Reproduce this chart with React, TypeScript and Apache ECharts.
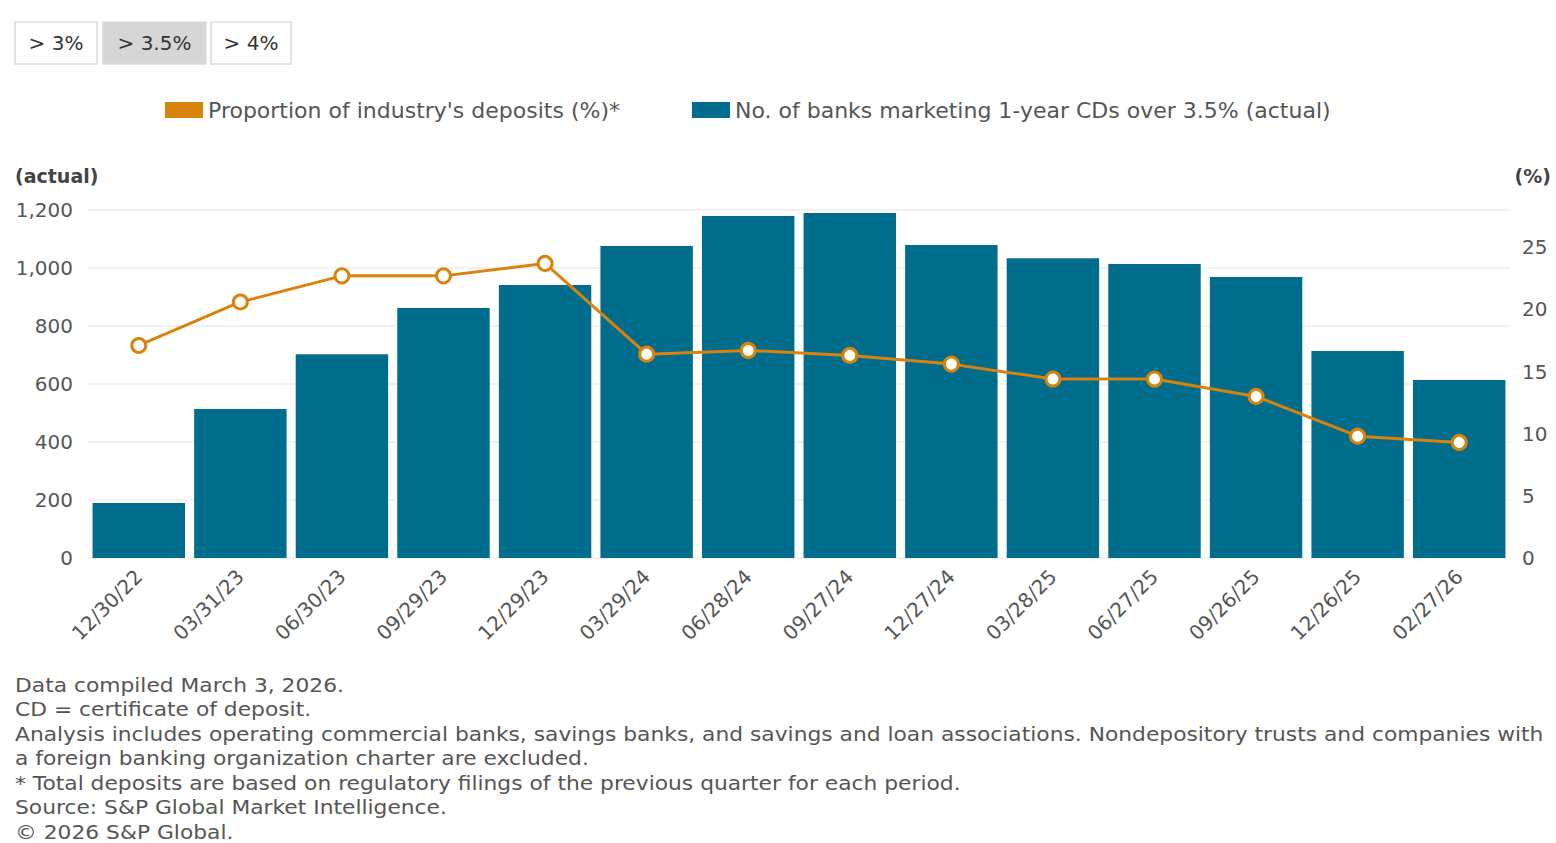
import React, { useEffect, useRef } from "react";
import * as echarts from "echarts";

const categories = ["12/30/22", "03/31/23", "06/30/23", "09/29/23", "12/29/23", "03/29/24", "06/28/24", "09/27/24", "12/27/24", "03/28/25", "06/27/25", "09/26/25", "12/26/25", "02/27/26"];
const banksCount = [190, 514, 703, 862, 941, 1076, 1179, 1190, 1079, 1034, 1014, 969, 714, 614];
const depositsShare = [17.1, 20.6, 22.7, 22.7, 23.7, 16.4, 16.7, 16.3, 15.6, 14.4, 14.4, 13.0, 9.8, 9.3];
const buttons = ["> 3%", "> 3.5%", "> 4%"];
const lineName = "Proportion of industry's deposits (%)*";
const barName = "No. of banks marketing 1-year CDs over 3.5% (actual)";
const footnotes = [
  "Data compiled March 3, 2026.",
  "CD = certificate of deposit.",
  "Analysis includes operating commercial banks, savings banks, and savings and loan associations. Nondepository trusts and companies with",
  "a foreign banking organization charter are excluded.",
  "* Total deposits are based on regulatory filings of the previous quarter for each period.",
  "Source: S&P Global Market Intelligence.",
  "\u00A9 2026 S&P Global.",
];

const FONT = "'DejaVu Sans', sans-serif";
const TEXT = "#555";
const ORANGE = "#d9820e";
const TEAL = "#006d8c";

export default function App() {
  const ref = useRef<HTMLDivElement>(null);
  useEffect(() => {
    if (!ref.current) return;
    const chart = echarts.init(ref.current, undefined, { renderer: "svg" });
    const btnBoxes = [
      { x: 15, w: 82, sel: false },
      { x: 103, w: 103, sel: true },
      { x: 211, w: 80, sel: false },
    ];
    const graphics: any[] = [];
    buttons.forEach((b, i) => {
      const bx = btnBoxes[i];
      graphics.push({
        type: "rect",
        shape: { x: bx.x, y: 22, width: bx.w, height: 42 },
        style: { fill: bx.sel ? "#d6d6d6" : "#fff", stroke: "#dcdcdc", lineWidth: 1.5 },
      });
      graphics.push({
        type: "text",
        x: bx.x + bx.w / 2,
        y: 43,
        style: { text: b, fill: "#333", font: `20px ${FONT}`, align: "center", verticalAlign: "middle" },
      });
    });
    graphics.push({
      type: "text", x: 15, y: 176,
      style: { text: "(actual)", fill: "#444", font: `bold 19px ${FONT}`, verticalAlign: "middle" },
    });
    graphics.push({
      type: "text", x: 1551, y: 176,
      style: { text: "(%)", fill: "#444", font: `bold 19px ${FONT}`, align: "right", verticalAlign: "middle" },
    });
    footnotes.forEach((t, i) => {
      graphics.push({
        type: "text", x: 15, y: 685 + i * 24.5, scaleX: 1.09,
        style: { text: t, fill: TEXT, font: `20px ${FONT}`, verticalAlign: "middle" },
      });
    });

    chart.setOption({
      animation: false,
      textStyle: { fontFamily: FONT },
      legend: {
        left: 160,
        top: 94,
        itemWidth: 38,
        itemHeight: 16,
        itemGap: 72,
        textStyle: { fontSize: 22, color: TEXT, fontFamily: FONT },
        data: [
          { name: lineName, icon: "rect", itemStyle: { color: ORANGE, borderWidth: 0 } },
          { name: barName, icon: "rect" },
        ],
      },
      grid: { left: 88, right: 46, top: 210, bottom: 285 },
      xAxis: {
        type: "category",
        data: categories,
        axisLine: { show: false },
        axisTick: { show: false },
        axisLabel: { rotate: 45, fontSize: 20, color: TEXT, margin: 15, fontFamily: FONT },
      },
      yAxis: [
        {
          type: "value",
          min: 0,
          max: 1200,
          interval: 200,
          axisLabel: {
            fontSize: 20,
            color: TEXT,
            margin: 15,
            fontFamily: FONT,
            formatter: (v: number) => v.toLocaleString("en-US"),
          },
          splitLine: { lineStyle: { color: "#eeeeee", width: 1.5 } },
          axisLine: { show: false },
          axisTick: { show: false },
        },
        {
          type: "value",
          min: 0,
          max: 28,
          interval: 5,
          position: "right",
          axisLabel: {
            fontSize: 20,
            color: TEXT,
            margin: 12,
            fontFamily: FONT,
            formatter: (v: number) => (v % 5 === 0 ? String(v) : ""),
          },
          splitLine: { show: false },
          axisLine: { show: false },
          axisTick: { show: false },
        },
      ],
      series: [
        {
          name: barName,
          type: "bar",
          data: banksCount,
          yAxisIndex: 0,
          barCategoryGap: "9%",
          itemStyle: { color: TEAL },
        },
        {
          name: lineName,
          type: "line",
          data: depositsShare,
          yAxisIndex: 1,
          symbol: "circle",
          symbolSize: 14,
          lineStyle: { color: ORANGE, width: 3 },
          itemStyle: { color: "#fff", borderColor: ORANGE, borderWidth: 3 },
          z: 5,
        },
      ],
      graphic: graphics,
    });
    return () => chart.dispose();
  }, []);
  return (
    <div
      ref={ref}
      style={{ position: "fixed", left: 0, top: 0, width: 1556, height: 843, background: "#fff" }}
    />
  );
}
